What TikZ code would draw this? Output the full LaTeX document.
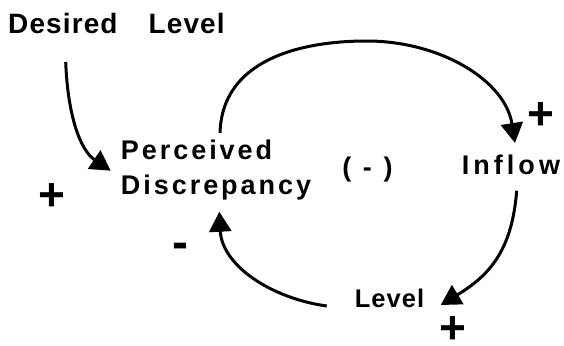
\documentclass[tikz,border=0pt]{standalone}
\usepackage{fontspec}
\setmainfont{Liberation Sans}
\newfontfamily\slightsans{Liberation Sans}[LetterSpace=4]
\newfontfamily\widesans{Liberation Sans}[LetterSpace=11]
\newfontfamily\widersans{Liberation Sans}[LetterSpace=15]
\usetikzlibrary{arrows.meta}
\tikzset{
  lbl/.style={inner sep=0pt, anchor=base west},
  var/.style={lbl, font=\slightsans\bfseries\fontsize{27}{32}\selectfont},
  wvar/.style={lbl, font=\widesans\bfseries\fontsize{27}{32}\selectfont},
  wwvar/.style={lbl, font=\widersans\bfseries\fontsize{27}{32}\selectfont},
  sign/.style={inner sep=0pt, anchor=center, font=\bfseries\fontsize{46}{50}\selectfont},
  link/.style={line width=3pt, -{Triangle[length=20pt,width=22pt]}}
}
\begin{document}
\begin{tikzpicture}[x=1pt, y=-1pt]
  \fill[white] (0,0) rectangle (564,345);
  \useasboundingbox (0,0) rectangle (564,345);

  % variables
  \node[var, font=\slightsans\bfseries\fontsize{28}{32}\selectfont] (desired) at (8,33.3) {Desired\hspace{31pt}Level};
  \node[wvar] (perc) at (120.7,159.3) {Perceived};
  \node[wvar] (disc) at (120.7,194.3) {Discrepancy};
  \node[wwvar] (inflow) at (461.6,174.3) {Inflow};
  \node[var, font=\slightsans\bfseries\fontsize{25.5}{30}\selectfont] (level) at (354.7,307.7) {Level};
  \node[wwvar, anchor=center] (loop) at (367.5,169.2) {( - )};

  % link polarities
  \node[sign] (p1) at (52.3,196.7) {+};
  \node[sign] (p2) at (541,116) {+};
  \node[sign] (p3) at (452.5,330.5) {+};
  \node[sign, font=\bfseries\fontsize{48}{50}\selectfont] (m1) at (180.5,250.5) {-};

  % causal links
  \draw[link] ([shift={(57.7,28.7)}]desired.base west)
      .. controls +(2,53) and +(-30.7,-20.7) ..
      ([shift={(-10,11.4)}]perc.base west);
  \draw[link] ([shift={(99.3,-26.3)}]perc.base west)
      .. controls +(2,-73) and +(-67,0) .. (366.7,41)
      .. controls +(73,0) and +(-10,-63) ..
      ([shift={(53.4,-31.3)}]inflow.base west);
  \draw[link] ([shift={(55.1,16.4)}]inflow.base west)
      .. controls +(-4.7,59.3) and +(49.3,-30) ..
      ([shift={(86,-2.7)}]level.base west);
  \draw[link] ([shift={(-28,-1.7)}]level.base west)
      .. controls +(-56.7,-8) and +(2.7,53.3) ..
      ([shift={(98.6,17.4)}]disc.base west);
\end{tikzpicture}
\end{document}
